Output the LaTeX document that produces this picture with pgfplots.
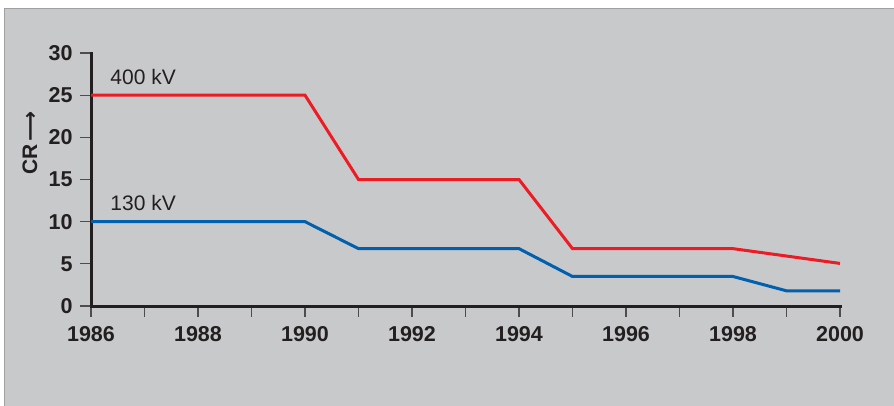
\documentclass[border=0pt]{standalone}
\usepackage{pgfplots}
\pgfplotsset{compat=1.18}
\usepackage{fontspec}
\setmainfont{Liberation Sans}
\newfontfamily\dejavu{DejaVu Sans}
\definecolor{bg}{RGB}{200,201,203}
\definecolor{frame}{RGB}{160,160,160}
\definecolor{axblack}{RGB}{35,31,32}
\definecolor{myred}{RGB}{237,28,36}
\definecolor{myblue}{RGB}{0,96,174}
\begin{document}
\begin{tikzpicture}[x=1pt,y=1pt]
\path[use as bounding box] (0,0) rectangle (894,405);
\fill[white] (0,0) rectangle (894,405);
\fill[bg] (4,-2) rectangle (896,396);
\draw[frame,line width=1pt] (4,-2) -- (4,396) -- (896,396);
\begin{axis}[
  at={(91pt,99pt)}, anchor=south west,
  scale only axis, width=749pt, height=253pt,
  xmin=1986, xmax=2000, ymin=0, ymax=30,
  axis lines*=left,
  axis line style={line width=3pt, color=axblack, line cap=rect},
  xtick={1986,1988,...,2000},
  minor xtick={1987,1989,...,1999},
  ytick={0,5,...,30},
  tick align=outside,
  major tick length=11pt, minor tick length=11pt,
  every tick/.style={line width=1.3pt, color=axblack!80},
  xticklabel style={font=\fontsize{21.5}{25}\selectfont\bfseries, color=axblack, /pgf/number format/1000 sep={}, yshift=-6pt},
  yticklabel style={font=\fontsize{21.5}{25}\selectfont\bfseries, color=axblack, xshift=-4pt},
  /pgf/number format/assume math mode=true,
  clip=false,
]
\addplot[myred, line width=3pt] coordinates {(1986,25) (1990,25) (1991,15) (1994,15) (1995,6.8) (1998,6.8) (2000,5.05)};
\addplot[myblue, line width=3pt] coordinates {(1986,10) (1990,10) (1991,6.8) (1994,6.8) (1995,3.5) (1998,3.5) (1999,1.8) (2000,1.8)};
\node[anchor=base west, inner sep=0pt, font=\fontsize{21}{25}\selectfont, color=axblack] at (axis cs:1986.36,26.3) {400 kV};
\node[anchor=base west, inner sep=0pt, font=\fontsize{21}{25}\selectfont, color=axblack] at (axis cs:1986.36,11.3) {130 kV};
\end{axis}
\node[rotate=90, font=\fontsize{21}{25}\selectfont\bfseries, color=axblack, inner sep=0pt] at (30,262) {CR\,{\dejavu\bfseries ⟶}};
\end{tikzpicture}
\end{document}
